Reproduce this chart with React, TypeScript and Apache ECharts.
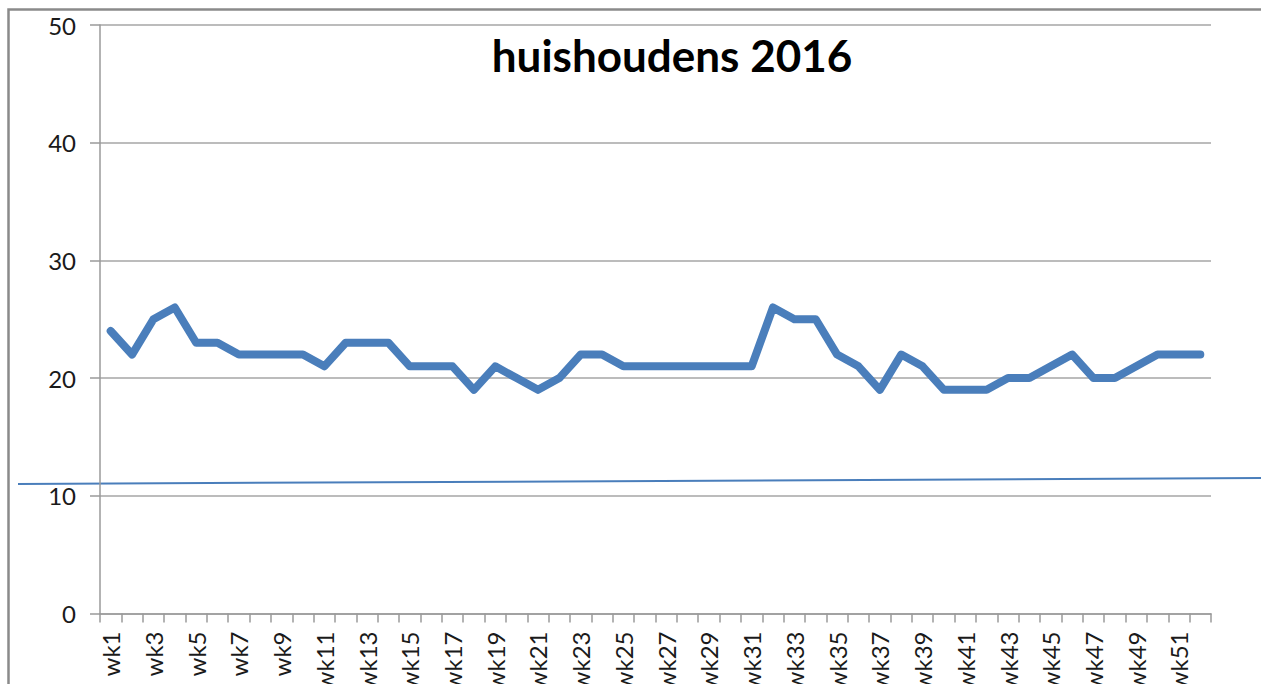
import React, { useEffect, useRef } from "react";
import * as echarts from "echarts";

const weeks: string[] = Array.from({ length: 52 }, (_, i) => `wk${i + 1}`);
const values: number[] = [
  24, 22, 25, 26, 23, 23, 22, 22, 22, 22,
  21, 23, 23, 23, 21, 21, 21, 19, 21, 20,
  19, 20, 22, 22, 21, 21, 21, 21, 21, 21,
  21, 26, 25, 25, 22, 21, 19, 22, 21, 19,
  19, 19, 20, 20, 21, 22, 20, 20, 21, 22,
  22, 22,
];
const chartTitle = "huishoudens 2016";
const yMin = 0;
const yMax = 50;
const yStep = 10;

export default function App() {
  const ref = useRef<HTMLDivElement>(null);
  useEffect(() => {
    document.body.style.margin = "0";
    const chart = echarts.init(ref.current!, null, { renderer: "svg" });
    const font = "Lato, 'Noto Sans', sans-serif";
    chart.setOption({
      animation: false,
      backgroundColor: "#ffffff",
      grid: {
        left: 100,
        right: 50,
        top: 25,
        bottom: 70.5,
        containLabel: false,
        outerBoundsMode: "none",
      },
      xAxis: {
        type: "category",
        data: weeks,
        boundaryGap: true,
        axisLine: { show: true, lineStyle: { color: "#9a9a9a", width: 1.5 } },
        axisTick: { show: true, interval: 0, length: 9, lineStyle: { color: "#9a9a9a", width: 1.5 } },
        axisLabel: {
          interval: 1,
          rotate: 90,
          margin: 18,
          fontSize: 24,
          fontFamily: font,
          color: "#1a1a1a",
        },
        splitLine: { show: false },
      },
      yAxis: {
        type: "value",
        min: yMin,
        max: yMax,
        interval: yStep,
        axisLine: { show: true, lineStyle: { color: "#9a9a9a", width: 1.5 } },
        axisTick: { show: true, length: 10, lineStyle: { color: "#9a9a9a", width: 1.5 } },
        axisLabel: { margin: 24, fontSize: 24, fontFamily: font, color: "#1a1a1a" },
        splitLine: { show: true, lineStyle: { color: "#a6a6a6", width: 1.5 } },
      },
      series: [
        {
          type: "line",
          data: values,
          showSymbol: false,
          symbol: "none",
          lineStyle: { color: "#4a7ebb", width: 8, cap: "round", join: "round" },
          itemStyle: { color: "#4a7ebb" },
        },
      ],
      graphic: [
        {
          type: "rect",
          shape: { x: 8.5, y: 9.5, width: 1300, height: 700 },
          style: { fill: "none", stroke: "#8a8a8a", lineWidth: 2.5 },
          silent: true,
        },
        {
          type: "line",
          shape: { x1: 18, y1: 484, x2: 1261, y2: 478 },
          style: { stroke: "#4a7ebb", lineWidth: 2 },
          silent: true,
        },
        {
          type: "text",
          x: 672,
          y: 55,
          style: {
            text: chartTitle,
            font: `bold 44px ${font}`,
            fill: "#000000",
            textAlign: "center",
            textVerticalAlign: "middle",
          },
        },
      ],
    });
    return () => chart.dispose();
  }, []);
  return <div ref={ref} style={{ position: "fixed", left: 0, top: 0, width: 1261, height: 684 }} />;
}
